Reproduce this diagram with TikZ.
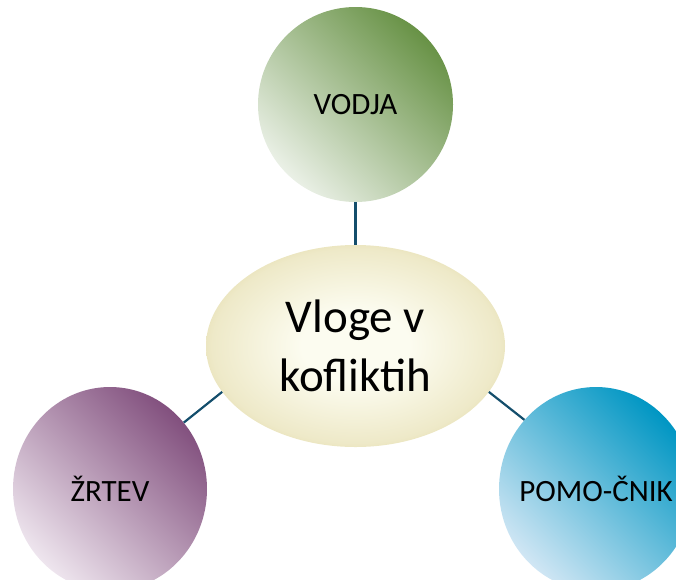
\documentclass[tikz,border=0pt]{standalone}
\usepackage{fontspec}
\setmainfont{Carlito}
\usetikzlibrary{shapes.geometric}

\definecolor{vodjadark}{RGB}{104,146,70}
\definecolor{vodjalight}{RGB}{234,240,230}
\definecolor{zrtevdark}{RGB}{130,80,126}
\definecolor{zrtevlight}{RGB}{238,229,238}
\definecolor{pomocdark}{RGB}{0,150,195}
\definecolor{pomoclight}{RGB}{208,230,244}
\definecolor{glowin}{RGB}{252,252,240}
\definecolor{glowout}{RGB}{212,198,126}
\definecolor{linkcol}{RGB}{20,78,108}

\pgfdeclareradialshading{centreglow}{\pgfpoint{0bp}{0bp}}{%
  color(0bp)=(glowin); color(9bp)=(glowin);
  color(24bp)=(glowin!65!glowout); color(35bp)=(glowout); color(50bp)=(glowout)}

\begin{document}
\begin{tikzpicture}[x=1pt,y=-1pt,
    role/.style={circle,minimum size=195pt,inner sep=0pt,
      font=\fontsize{31}{36}\selectfont},
    lowrole/.style={role,ellipse,minimum width=194pt,minimum height=204pt,inner xsep=-40pt},
    hub/.style={ellipse,minimum width=299pt,minimum height=202pt,inner sep=0pt,
      shading=centreglow,align=center,font=\fontsize{47}{59}\selectfont},
    link/.style={draw=linkcol,line width=2.2pt}]
  \useasboundingbox (0,0) rectangle (676,579);
  \node[role,top color=vodjadark,bottom color=vodjalight,shading angle=-45] (vodja) at (355.5,104.5) {VODJA};
  \node[lowrole,top color=zrtevdark,bottom color=zrtevlight,shading angle=-45] (zrtev) at (110,489) {ŽRTEV};
  \node[lowrole,top color=pomocdark,bottom color=pomoclight,shading angle=-45] (pomoc) at (596,489) {POMO-ČNIK};
  \node[hub] (vloge) at (355.5,346) {Vloge v\\kofliktih};
  \path[link] (vodja.south) edge (vloge.north)  (vloge.199) edge (zrtev.42)  (vloge.341) edge (pomoc.136);
\end{tikzpicture}
\end{document}
